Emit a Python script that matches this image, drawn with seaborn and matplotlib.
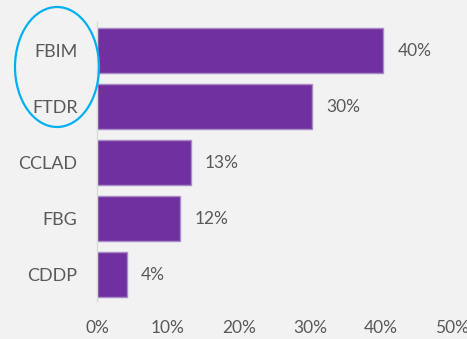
import matplotlib
matplotlib.use("Agg")
import matplotlib.pyplot as plt
import seaborn as sns
import pandas as pd
from matplotlib.patches import Ellipse
from matplotlib.ticker import FuncFormatter

categories = ["FBIM", "FTDR", "CCLAD", "FBG", "CDDP"]
values = [40.3, 30.3, 13.2, 11.7, 4.2]
labels = ["40%", "30%", "13%", "12%", "4%"]
xticks = [0, 10, 20, 30, 40, 50]

df = pd.DataFrame({"cat": categories, "val": values})

sns.set_theme(style="white")
plt.rcParams["font.family"] = ["Lato", "DejaVu Sans"]

fig = plt.figure(figsize=(4.67, 3.39), dpi=100, facecolor="#F2F2F2")
ax = fig.add_axes([97/467, 1-301/339, (452-97)/467, (301-22)/339])
ax.set_facecolor("#F2F2F2")

sns.barplot(data=df, x="val", y="cat", orient="h", color="#7030A0",
            edgecolor="#A98AC9", linewidth=1, width=0.8, saturation=1, ax=ax)

for i, (v, t) in enumerate(zip(values, labels)):
    ax.text(v + 2.0, i, t, va="center", ha="left", fontsize=12.5, color="#595959")

ax.set_xlim(0, 50)
ax.set_ylim(4.47, -0.51)
ax.set_xticks(xticks)
ax.xaxis.set_major_formatter(FuncFormatter(lambda x, p: f"{int(x)}%"))
ax.tick_params(axis="x", length=0, pad=14, labelsize=12.5, labelcolor="#595959")
ax.tick_params(axis="y", length=0, pad=14, labelsize=13, labelcolor="#595959")
ax.set_xlabel("")
ax.set_ylabel("")
for s in ["top", "right", "bottom"]:
    ax.spines[s].set_visible(False)
ax.spines["left"].set_color("#D9D9D9")
ax.spines["left"].set_linewidth(1)

ell = Ellipse((57/467, 1-67/339), 84/467, 120/339, transform=fig.transFigure,
              fill=False, edgecolor="#00B0F0", linewidth=1.6)
fig.add_artist(ell)

fig.savefig("out.png", dpi=100, facecolor=fig.get_facecolor())
